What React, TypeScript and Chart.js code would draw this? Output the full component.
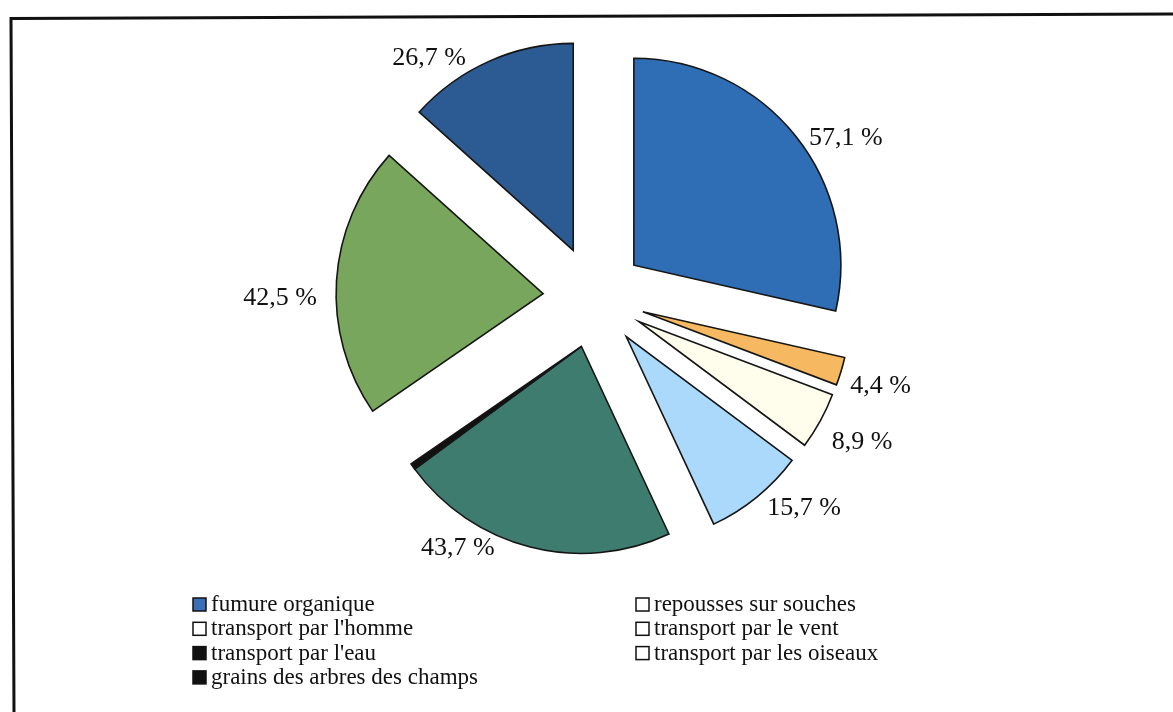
import React, { useEffect, useRef } from "react";
import { Chart, ArcElement, PieController } from "chart.js";

Chart.register(ArcElement, PieController);

// ---- data ----
const sliceLabels = [
  "fumure organique",
  "repousses sur souches",
  "transport par l'homme",
  "transport par le vent",
  "transport par les oiseaux",
  "transport par l'eau",
  "grains des arbres des champs",
  "autres",
];
const sliceValues = [57.1, 4.4, 8.9, 15.7, 43.7, 1.0, 42.5, 26.7];
const sliceColors = ["#2F6DB5", "#F6B860", "#FFFDEB", "#AAD9FB", "#3F7C70", "#111111", "#78A65C", "#2C5B93"];
const showValueLabel = [true, true, true, true, true, false, true, true];

const legendLabels = [
  "fumure organique",
  "repousses sur souches",
  "transport par l'homme",
  "transport par le vent",
  "transport par l'eau",
  "transport par les oiseaux",
  "grains des arbres des champs",
];
const legendColors = ["#3A6FB8", "#FFFFFF", "#FFFFFF", "#FFFFFF", "#111111", "#FFFFFF", "#111111"];

// ---- style ----
const EXPLODE = 51;
const RADIUS = 207;
const SERIF = "'Liberation Serif', 'Times New Roman', serif";
const labelNudgeDeg = [6.3, 0.5, -0.2, -5.7, 14.1, 0, -3.9, -10.6];
const labelGap = [40, 42, 47, 40, 28, 0, 56, 32];

const fmt = (v: number) => v.toFixed(1).replace(".", ",") + " %";

// the unlabelled sliver moves out together with the slice before it
function sliceMid(meta: any, i: number) {
  let idx = i;
  while (idx > 0 && !showValueLabel[idx]) idx--;
  const a = meta.data[idx];
  return (a.startAngle + a.endAngle) / 2;
}

const explodePlugin = {
  id: "explode",
  beforeDatasetDraw(chart: any, args: any) {
    const ctx = chart.ctx;
    const meta = args.meta;
    meta.data.forEach((arc: any, i: number) => {
      const mid = sliceMid(meta, i);
      ctx.save();
      ctx.translate(Math.cos(mid) * EXPLODE, Math.sin(mid) * EXPLODE);
      arc.draw(ctx);
      ctx.restore();
    });
    return false;
  },
};

const labelPlugin = {
  id: "valueLabels",
  afterDatasetsDraw(chart: any) {
    const ctx = chart.ctx;
    const meta = chart.getDatasetMeta(0);
    ctx.save();
    ctx.font = `26px ${SERIF}`;
    ctx.fillStyle = "#111";
    ctx.textBaseline = "middle";
    ctx.textAlign = "center";
    meta.data.forEach((arc: any, i: number) => {
      if (!showValueLabel[i]) return;
      const mid = (arc.startAngle + arc.endAngle) / 2 + (labelNudgeDeg[i] * Math.PI) / 180;
      const r = arc.outerRadius + EXPLODE + labelGap[i];
      ctx.fillText(fmt(sliceValues[i]), arc.x + Math.cos(mid) * r, arc.y + Math.sin(mid) * r);
    });
    ctx.restore();
  },
};

const legendPlugin = {
  id: "customLegend",
  afterDraw(chart: any) {
    const ctx = chart.ctx;
    const colX = [193, 636];
    const y0 = 604;
    const step = 24.3;
    ctx.save();
    ctx.font = `23px ${SERIF}`;
    ctx.textBaseline = "middle";
    ctx.textAlign = "left";
    legendLabels.forEach((lab, i) => {
      const col = i === 6 ? 0 : i % 2;
      const row = i === 6 ? 3 : Math.floor(i / 2);
      const x = colX[col];
      const y = y0 + row * step;
      ctx.fillStyle = legendColors[i];
      ctx.fillRect(x, y - 6, 13, 13);
      ctx.strokeStyle = "#111";
      ctx.lineWidth = 1.5;
      ctx.strokeRect(x, y - 6, 13, 13);
      ctx.fillStyle = "#111";
      ctx.fillText(lab, x + 18, y + 1);
    });
    ctx.restore();
  },
};

const framePlugin = {
  id: "frame",
  beforeDraw(chart: any) {
    const ctx = chart.ctx;
    ctx.save();
    ctx.strokeStyle = "#111";
    ctx.lineWidth = 3;
    ctx.beginPath();
    ctx.moveTo(1173, 14);
    ctx.lineTo(11, 18.5);
    ctx.lineTo(14, 712);
    ctx.stroke();
    ctx.restore();
  },
};

export default function App() {
  const ref = useRef<HTMLCanvasElement>(null);
  useEffect(() => {
    if (!ref.current) return;
    const chart = new Chart(ref.current, {
      type: "pie",
      data: {
        labels: sliceLabels,
        datasets: [
          {
            data: sliceValues,
            backgroundColor: sliceColors,
            borderColor: "#151515",
            borderWidth: 1.6,
            borderJoinStyle: "miter",
            radius: RADIUS,
          } as any,
        ],
      },
      options: {
        responsive: false,
        animation: false,
        events: [],
        layout: { padding: { left: 294, right: 279, top: 47, bottom: 165 } },
        plugins: { legend: { display: false }, tooltip: { enabled: false } },
      } as any,
      plugins: [framePlugin, explodePlugin, labelPlugin, legendPlugin],
    });
    return () => chart.destroy();
  }, []);
  return (
    <div style={{ position: "absolute", left: 0, top: 0, width: 1173, height: 712, background: "#fff" }}>
      <canvas ref={ref} width={1173} height={712} />
    </div>
  );
}
